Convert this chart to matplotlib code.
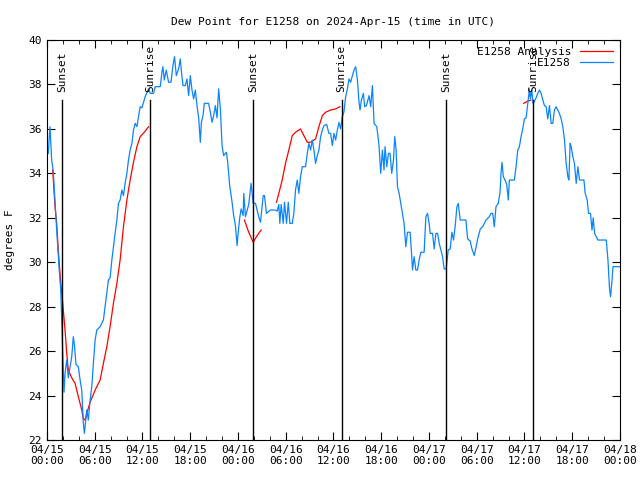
import matplotlib
matplotlib.use('Agg')
import matplotlib.pyplot as plt

# hours since 2024-04-15 00:00 UTC
obs_hours = [0.16, 0.38, 0.59, 0.79, 1.22, 1.55, 1.73, 1.89, 2.14, 2.27, 2.48, 2.68, 3.11, 3.31, 3.44,
             3.65, 3.94, 4.16, 4.37, 4.57, 4.70, 5.0, 5.2, 5.42, 5.63, 5.83, 6.05, 6.26, 6.68, 7.09,
             7.30, 7.52, 7.72, 7.93, 8.15, 8.35, 8.56, 8.78, 8.98, 9.19, 9.41, 9.61, 9.82, 10.04, 10.24,
             10.45, 10.67, 10.87, 11.08, 11.30, 11.50, 11.71, 11.93, 12.13, 12.34, 12.76, 12.97, 13.39,
             13.60, 14.23, 14.45, 14.57, 14.74, 14.99, 15.28, 15.58, 15.83, 16.03, 16.25, 16.54, 16.75,
             16.92, 17.09, 17.38, 17.59, 17.80, 18.01, 18.22, 18.43, 18.64, 18.85, 19.06, 19.27, 19.40,
             19.61, 19.77, 20.31, 20.53, 20.74, 20.94, 21.16, 21.37, 21.57, 21.79, 22.0, 22.20, 22.54,
             22.71, 22.96, 23.26, 23.46, 23.68, 23.89, 24.02, 24.22, 24.40, 24.65, 24.73, 24.94, 25.35,
             25.65, 25.91, 26.20, 26.61, 26.83, 27.17, 27.33, 27.58, 28.09, 28.72, 28.93, 29.13, 29.26,
             29.43, 29.69, 29.85, 30.10, 30.32, 30.52, 30.82, 31.02, 31.23, 31.45, 31.65, 31.86, 32.08,
             32.49, 32.71, 32.91, 33.12, 33.34, 33.54, 33.75, 33.97, 34.17, 34.38, 34.60, 34.80, 35.14,
             35.43, 35.64, 35.86, 36.06, 36.27, 36.49, 36.69, 36.90, 37.11, 37.31, 37.53, 37.75, 37.95,
             38.16, 38.38, 38.58, 38.79, 39.01, 39.21, 39.34, 39.51, 39.76, 39.92, 40.14, 40.47, 40.68,
             40.89, 41.10, 41.44, 41.60, 41.73, 41.94, 42.15, 42.35, 42.48, 42.70, 42.91, 43.11, 43.32,
             43.54, 43.70, 43.87, 44.04, 44.25, 44.46, 44.67, 44.87, 45.09, 45.30, 45.63, 45.81, 45.93,
             46.13, 46.35, 46.56, 46.76, 46.98, 47.39, 47.61, 47.82, 48.02, 48.15, 48.45, 48.65, 48.87,
             49.08, 49.29, 49.71, 49.91, 50.16, 50.25, 50.42, 50.67, 50.88, 51.09, 51.30, 51.51, 51.68,
             51.93, 52.64, 52.86, 53.19, 53.36, 53.69, 53.90, 54.12, 54.45, 54.75, 55.16, 55.58, 55.79,
             56.01, 56.21, 56.42, 56.71, 56.93, 57.05, 57.18, 57.34, 57.56, 57.77, 57.97, 58.10, 58.31,
             58.73, 58.94, 59.16, 59.36, 59.57, 59.78, 59.99, 60.20, 60.42, 60.62, 60.74, 60.92, 61.08,
             61.25, 61.46, 61.67, 61.88, 62.09, 62.31, 62.51, 62.72, 62.93, 63.14, 63.35, 63.56, 63.76,
             63.98, 64.19, 64.39, 64.61, 64.82, 65.03, 65.24, 65.45, 65.58, 65.74, 65.87, 66.08, 66.28,
             66.50, 66.71, 66.92, 67.13, 67.47, 67.63, 67.88, 68.05, 68.30, 68.48, 68.64, 68.81, 69.02,
             69.23, 70.28, 70.49, 70.69, 70.82, 71.0, 71.12, 72.0]
obs_dewpt = [34.9, 36.1, 34.6, 34.1, 31.45, 29.6, 28.75, 26.95, 24.15, 25.0, 25.6, 24.8, 25.75, 26.65, 26.3,
             25.4, 25.3, 24.7, 24.25, 22.75, 22.3, 23.35, 22.9, 23.8, 24.4, 25.45, 26.5, 26.95, 27.1, 27.4,
             28.0, 28.6, 29.2, 29.3, 30.1, 30.7, 31.3, 31.9, 32.65, 32.8, 33.25, 33.0, 33.55, 34.0, 34.6,
             35.05, 35.35, 35.95, 36.25, 36.1, 36.55, 37.0, 36.95, 37.2, 37.45, 37.8, 37.6, 37.6,
             37.9, 37.9, 38.55, 38.8, 38.2, 38.65, 38.1, 38.1, 38.85, 39.25, 38.4, 38.7, 39.15,
             38.5, 37.95, 37.95, 38.25, 37.5, 38.4, 37.75, 37.35, 37.75, 37.05, 36.5, 35.4, 36.3,
             36.6, 37.15, 37.15, 36.75, 36.3, 36.6, 37.05, 36.5, 37.8, 36.9, 35.25, 34.8, 34.95,
             34.5, 33.45, 32.7, 32.1, 31.65, 30.75, 31.3, 32.0, 32.4, 32.1, 33.1, 32.05, 32.6,
             33.55, 32.65, 32.65, 32.05, 31.8, 33.0, 33.0, 32.2, 32.35, 32.35, 32.3, 32.6, 31.75,
             32.6, 31.75, 32.7, 31.75, 32.7, 31.75, 31.75, 32.2, 33.25, 33.7, 33.1, 33.85, 34.3,
             34.3, 34.9, 35.35, 35.05, 35.5, 35.05, 34.45, 34.8, 35.05, 35.65, 35.95, 36.15, 36.2,
             35.8, 35.8, 35.25, 35.8, 35.5, 35.95, 36.3, 36.0, 36.55, 36.75, 37.45, 37.8, 38.25,
             38.1, 38.4, 38.65, 38.8, 38.2, 37.2, 36.85, 37.3, 37.6, 37.0, 37.05, 37.5, 37.0,
             37.95, 36.25, 36.1, 35.65, 35.2, 34.0, 35.05, 34.15, 35.2, 34.3, 34.9, 34.9, 34.0,
             34.6, 35.65, 35.05, 33.4, 33.1, 32.65, 32.2, 31.75, 30.7, 31.35, 31.35, 30.4, 29.65,
             30.25, 29.65, 29.65, 30.1, 30.45, 30.45, 32.05, 32.2, 31.75, 31.3, 31.3, 30.6, 31.3,
             31.3, 30.85, 30.25, 29.7, 29.7, 30.0, 30.55, 30.6, 31.35, 31.0, 31.65, 32.5, 32.65,
             31.9, 31.9, 31.05, 30.95, 30.65, 30.3, 30.65, 31.05, 31.5, 31.6, 31.9, 32.05, 32.2,
             32.2, 31.6, 32.5, 32.65, 33.15, 34.0, 34.5, 33.85, 33.7, 33.5, 32.8, 33.7, 33.7,
             33.7, 34.3, 35.05, 35.2, 35.65, 36.0, 36.45, 36.5, 37.15, 37.8, 37.35, 37.75, 37.15,
             37.25, 37.4, 37.6, 37.75, 37.6, 37.3, 37.05, 37.0, 36.45, 37.05, 36.25, 36.25, 36.85,
             37.0, 36.85, 36.7, 36.45, 36.1, 35.5, 34.45, 33.85, 33.7, 35.35, 35.2, 34.75, 34.45,
             33.55, 34.3, 33.7, 33.7, 33.7, 33.1, 32.8, 32.2, 32.2, 31.45, 32.0, 31.3, 31.15,
             31.0, 31.0, 30.1, 28.8, 28.45, 29.2, 29.8, 29.8]

# analysis series comes in separate segments
ana_hours = [
    [0.72, 1.01, 1.22, 1.42, 1.73, 1.98, 2.27, 2.48, 2.68, 3.11, 3.53, 3.94, 4.37, 4.57, 4.79, 5.0,
     5.42, 6.05, 6.68, 7.09, 7.52, 7.93, 8.35, 8.78, 9.19, 9.61, 10.04, 10.45, 10.87, 11.30, 11.71,
     12.34, 12.76],
    [24.81, 25.35, 25.91, 26.41, 26.91],
    [28.84, 29.13, 29.56, 29.97, 30.39, 30.82, 31.23, 31.86, 32.28, 32.71, 33.12, 33.75, 34.17, 34.60,
     35.01, 35.64, 36.27, 36.81],
    [59.91, 60.42, 60.83],
]
ana_dewpt = [
    [34.15, 32.5, 31.75, 30.55, 29.05, 28.15, 26.95, 25.9, 25.15, 24.8, 24.55, 23.95, 23.35, 22.95, 22.9,
     23.2, 23.7, 24.25, 24.7, 25.45, 26.2, 27.1, 28.15, 29.05, 30.1, 31.6, 32.8, 33.7, 34.5, 35.2, 35.65,
     35.9, 36.1],
    [31.9, 31.35, 30.9, 31.2, 31.45],
    [32.7, 33.1, 33.7, 34.45, 35.05, 35.7, 35.85, 36.0, 35.7, 35.4, 35.4, 35.55, 36.1, 36.6, 36.75,
     36.85, 36.9, 37.0],
    [37.15, 37.25, 37.3],
]

sun_hours = [1.89, 12.97, 25.94, 37.03, 50.13, 61.08]
sun_names = ['Sunset', 'Sunrise', 'Sunset', 'Sunrise', 'Sunset', 'Sunrise']

tick_hours = list(range(0, 73, 6))
tick_labels = ['04/15\n00:00', '04/15\n06:00', '04/15\n12:00', '04/15\n18:00',
               '04/16\n00:00', '04/16\n06:00', '04/16\n12:00', '04/16\n18:00',
               '04/17\n00:00', '04/17\n06:00', '04/17\n12:00', '04/17\n18:00',
               '04/18\n00:00']

plt.rcParams['font.family'] = 'DejaVu Sans Mono'

fig = plt.figure(figsize=(6.4, 4.8), dpi=100)
ax = fig.add_axes([0.0734, 0.0833, 0.8953, 0.8333])

for i, (h, v) in enumerate(zip(ana_hours, ana_dewpt)):
    ax.plot(h, v, color='#ff0000', lw=0.9, label='E1258 Analysis' if i == 0 else None)
ax.plot(obs_hours, obs_dewpt, color='#0a84ff', lw=0.9, label='E1258')

for h, name in zip(sun_hours, sun_names):
    ax.plot([h, h], [22, 37.3], color='black', lw=1.0)
    ax.text(h, 37.65, name, rotation=90, ha='center', va='bottom', fontsize=8)

ax.set_xlim(0, 72)
ax.set_ylim(22, 40)
ax.set_xticks(tick_hours)
ax.set_xticklabels(tick_labels, fontsize=8)
ax.set_xticks(range(0, 73, 2), minor=True)
ax.set_yticks(range(22, 41, 2))
ax.tick_params(axis='y', labelsize=8)
ax.tick_params(which='both', direction='in', top=True, right=True)
ax.tick_params(which='major', length=6)
ax.tick_params(which='minor', length=3)
ax.set_ylabel('degrees F', fontsize=8, labelpad=10)
ax.set_title('Dew Point for E1258 on 2024-Apr-15 (time in UTC)', fontsize=8, pad=11)

ax.legend(loc='upper right', frameon=False, markerfirst=False, fontsize=8,
          handlelength=3, borderaxespad=0.2, labelspacing=0.1)

fig.savefig('out.png', dpi=100)
